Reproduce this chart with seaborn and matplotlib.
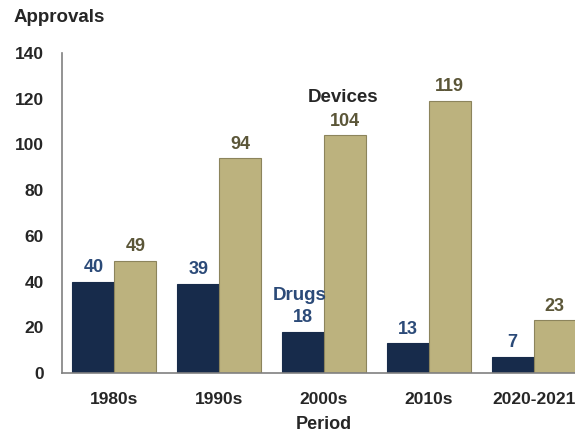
import pandas as pd
import matplotlib.pyplot as plt
import seaborn as sns

periods = ['1980s', '1990s', '2000s', '2010s', '2020-2021']
drugs = [40, 39, 18, 13, 7]
devices = [49, 94, 104, 119, 23]

df = pd.DataFrame({
    'Period': periods * 2,
    'Approvals': drugs + devices,
    'Type': ['Drugs'] * len(periods) + ['Devices'] * len(periods),
})

sns.set_style('white')
plt.rcParams['font.family'] = ['Liberation Sans', 'DejaVu Sans']

navy = '#172b4b'
khaki = '#bcb27e'

fig = plt.figure(figsize=(5.75, 4.36), dpi=100)
# axes run past the right edge, as in the reference
ax = fig.add_axes([62 / 575, 1 - 373 / 436, 524 / 575, 320 / 436])

sns.barplot(data=df, x='Period', y='Approvals', hue='Type',
            palette=[navy, khaki], width=0.8, ax=ax, legend=False,
            saturation=1)

for bar, c in zip(ax.patches, [navy] * 5 + ['#8c845c'] * 5):
    bar.set_edgecolor(c)
    bar.set_linewidth(0.8)

for cont, col in zip(ax.containers, ['#2b4a78', '#5b5638']):
    ax.bar_label(cont, padding=4, fontsize=13, fontweight='bold', color=col)

ax.set_ylim(0, 140)
ax.set_xlim(-0.5, 4.5)
ax.set_yticks(range(0, 141, 20))
ax.tick_params(axis='both', length=0, labelsize=12.5)
for lab in ax.get_yticklabels() + ax.get_xticklabels():
    lab.set_fontweight('bold')
ax.tick_params(axis='y', pad=13)
ax.tick_params(axis='x', pad=14)

ax.set_ylabel('')
ax.set_xlabel('Period', fontsize=13, fontweight='bold', labelpad=6)
fig.text(14 / 575, 1 - 17 / 436, 'Approvals', fontsize=13.5, fontweight='bold',
         va='center', ha='left')

ax.text(2.18, 120.5, 'Devices', fontsize=13.5, fontweight='bold', ha='center', va='center')
ax.text(1.77, 34, 'Drugs', fontsize=13.5, fontweight='bold', ha='center', va='center',
        color='#2b4a78')

for s in ['top', 'right']:
    ax.spines[s].set_visible(False)
for s in ['left', 'bottom']:
    ax.spines[s].set_color('#808080')
    ax.spines[s].set_linewidth(1.2)

fig.savefig('out.png', dpi=100)
